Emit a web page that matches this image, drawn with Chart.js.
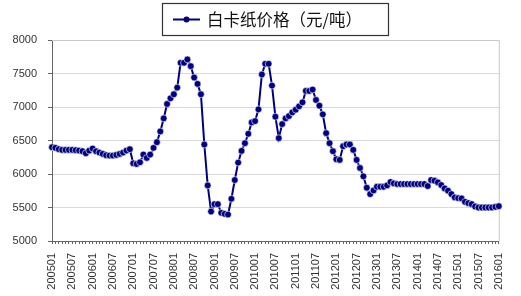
<!doctype html>
<html lang="zh">
<head>
<meta charset="utf-8">
<title>白卡纸价格</title>
<script src="https://cdn.jsdelivr.net/npm/chart.js@4.4.0/dist/chart.umd.min.js"></script>
<style>
  html, body { margin: 0; padding: 0; background: #fff; }
</style>
</head>
<body>
<canvas id="chart" width="521" height="296"></canvas>
<script>
const seriesLabel = '白卡纸价格（元/吨）';

// monthly prices, yuan/ton
const p2005 = [6400, 6390, 6370, 6360, 6360, 6360, 6360, 6355, 6350, 6340, 6310, 6350];
const p2006 = [6380, 6340, 6320, 6300, 6280, 6275, 6275, 6285, 6300, 6320, 6350, 6370];
const p2007 = [6160, 6150, 6175, 6290, 6240, 6290, 6390, 6475, 6635, 6830, 7045, 7130];
const p2008 = [7190, 7290, 7660, 7660, 7710, 7610, 7440, 7345, 7190, 6440, 5830, 5440];
const p2009 = [5550, 5550, 5420, 5405, 5395, 5630, 5910, 6170, 6345, 6460, 6600, 6770];
const p2010 = [6790, 6965, 7485, 7645, 7645, 7320, 6855, 6535, 6745, 6830, 6865, 6920];
const p2011 = [6960, 7010, 7070, 7240, 7240, 7260, 7105, 7020, 6890, 6610, 6460, 6340];
const p2012 = [6220, 6210, 6415, 6440, 6440, 6360, 6210, 6090, 5965, 5795, 5700, 5755];
const p2013 = [5810, 5810, 5810, 5830, 5880, 5860, 5850, 5850, 5850, 5850, 5850, 5850];
const p2014 = [5850, 5850, 5850, 5820, 5910, 5900, 5875, 5835, 5785, 5750, 5700, 5650];
const p2015 = [5640, 5635, 5585, 5565, 5550, 5515, 5500, 5500, 5500, 5500, 5500, 5510];
const p2016 = [5520];

const years = [2005, 2006, 2007, 2008, 2009, 2010, 2011, 2012, 2013, 2014, 2015, 2016];
const prices = [].concat(p2005, p2006, p2007, p2008, p2009, p2010, p2011, p2012, p2013, p2014, p2015, p2016);

// category for every month: 200501 ... 201601
const months = [];
years.forEach(y => {
    for (let m = 1; m <= 12; m++) {
        if (months.length < prices.length) months.push(String(y) + String(m).padStart(2, '0'));
    }
});

const tickLabels = ['200501', '200507', '200601', '200607', '200701', '200707', '200801', '200807',
    '200901', '200907', '201001', '201007', '201101', '201107', '201201', '201207',
    '201301', '201307', '201401', '201407', '201501', '201507', '201601'];

const yTicks = { min: 5000, max: 8000, step: 500 };

const navy = '#000080';
const axisFont = { family: 'Liberation Sans', size: 11 };

// light plot frame on top and right, boxed legend at the top
const framePlugin = {
    id: 'frame',
    beforeDatasetsDraw(chart) {
        const { ctx, chartArea: a } = chart;
        ctx.save();
        ctx.strokeStyle = '#c8c8c8';
        ctx.lineWidth = 1;
        ctx.beginPath();
        ctx.moveTo(a.left, a.top + 0.5);
        ctx.lineTo(a.right + 0.5, a.top + 0.5);
        ctx.lineTo(a.right + 0.5, a.bottom);
        ctx.stroke();
        ctx.restore();
    },
    afterDraw(chart) {
        const ctx = chart.ctx;
        ctx.save();
        ctx.strokeStyle = '#333';
        ctx.lineWidth = 1.2;
        ctx.strokeRect(162.5, 3.5, 226, 32);
        // marker
        ctx.strokeStyle = navy;
        ctx.lineWidth = 2;
        ctx.beginPath();
        ctx.moveTo(173, 19.5);
        ctx.lineTo(200, 19.5);
        ctx.stroke();
        ctx.fillStyle = navy;
        ctx.beginPath();
        ctx.arc(186.5, 19.5, 3, 0, Math.PI * 2);
        ctx.fill();
        // label
        ctx.fillStyle = '#111';
        ctx.font = '16.5px "Noto Sans CJK SC"';
        ctx.textBaseline = 'middle';
        ctx.fillText(seriesLabel, 207, 20);
        ctx.restore();
    }
};

new Chart(document.getElementById('chart'), {
    type: 'line',
    data: {
        labels: months,
        datasets: [{
            label: seriesLabel,
            data: prices,
            borderColor: navy,
            borderWidth: 2,
            pointRadius: 3.4,
            pointBackgroundColor: navy,
            pointBorderColor: '#ffffff',
            pointBorderWidth: 0.6,
            tension: 0
        }]
    },
    options: {
        responsive: false,
        animation: false,
        layout: { padding: { left: 0, top: 40, right: 9, bottom: 0 } },
        plugins: {
            legend: { display: false },
            tooltip: { enabled: false }
        },
        scales: {
            x: {
                ticks: {
                    autoSkip: false,
                    minRotation: 90,
                    maxRotation: 90,
                    padding: 9,
                    color: '#333',
                    font: axisFont,
                    callback: (v, i) => tickLabels.includes(months[i]) ? months[i] : ''
                },
                grid: { drawOnChartArea: false, tickLength: 3, tickColor: '#666' },
                border: { color: '#666' },
                afterFit: s => { s.height = 55; }
            },
            y: {
                min: yTicks.min,
                max: yTicks.max,
                ticks: {
                    stepSize: yTicks.step,
                    padding: 11,
                    color: '#333',
                    font: axisFont,
                    callback: v => String(v)
                },
                grid: { color: '#d9d9d9', tickColor: '#666', tickLength: 4 },
                border: { color: '#666' },
                afterFit: s => { s.width = 52; }
            }
        }
    },
    plugins: [framePlugin]
});
</script>
</body>
</html>
